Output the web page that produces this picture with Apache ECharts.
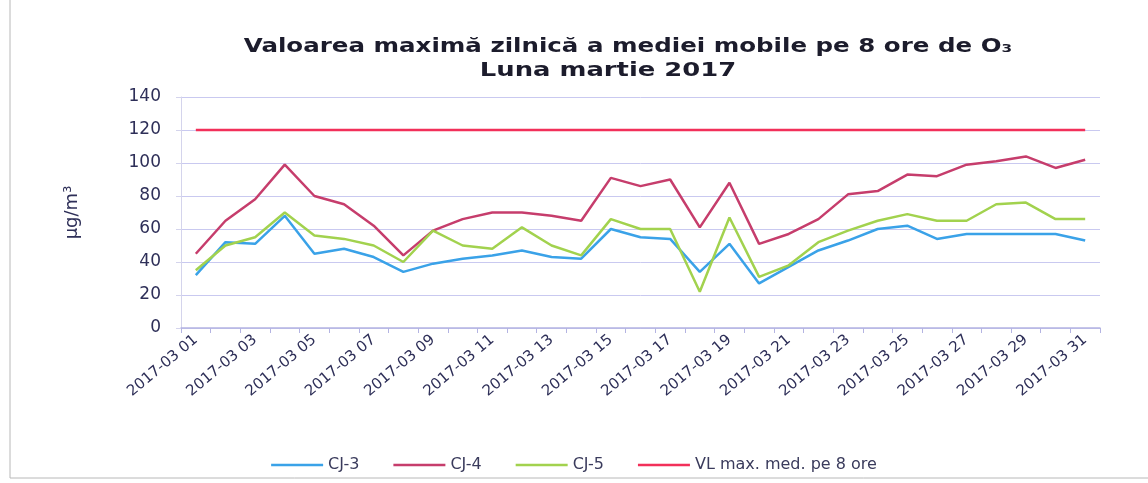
<!DOCTYPE html>
<html>
<head>
<meta charset="utf-8">
<script src="https://cdn.jsdelivr.net/npm/echarts@6/dist/echarts.min.js"></script>
<style>html,body{margin:0;padding:0;background:#fff}#c{width:1148px;height:483px}</style>
</head>
<body>
<div id="c"></div>
<script>
const categories = ["2017-03 01","2017-03 02","2017-03 03","2017-03 04","2017-03 05","2017-03 06","2017-03 07","2017-03 08","2017-03 09","2017-03 10","2017-03 11","2017-03 12","2017-03 13","2017-03 14","2017-03 15","2017-03 16","2017-03 17","2017-03 18","2017-03 19","2017-03 20","2017-03 21","2017-03 22","2017-03 23","2017-03 24","2017-03 25","2017-03 26","2017-03 27","2017-03 28","2017-03 29","2017-03 30","2017-03 31"];
const cj3 = [32,52,51,68,45,48,43,34,39,42,44,47,43,42,60,55,54,34,51,27,37,47,53,60,62,54,57,57,57,57,53];
const cj4 = [45,65,78,99,80,75,62,44,59,66,70,70,68,65,91,86,90,61,88,51,57,66,81,83,93,92,99,101,104,97,102];
const cj5 = [35,50,55,70,56,54,50,40,59,50,48,61,50,44,66,60,60,22,67,31,38,52,59,65,69,65,65,75,76,66,66];
const vl  = [120,120,120,120,120,120,120,120,120,120,120,120,120,120,120,120,120,120,120,120,120,120,120,120,120,120,120,120,120,120,120];
const yTicks = [0,20,40,60,80,100,120,140];

const chart = echarts.init(document.getElementById('c'), null, {renderer:'canvas'});
const navy = '#2e2f58';
function line(name, data, color) {
  return {name, type:'line', data, symbol:'none', smooth:false,
    lineStyle:{color, width:2.5}, itemStyle:{color}, z: name.startsWith('VL') ? 3 : 2};
}
chart.setOption({
  backgroundColor:'#fff',
  animation:false,
  graphic:[
    {type:'text', x:628, y:47, scaleX:1.29, style:{text:'Valoarea maximă zilnică a mediei mobile pe 8 ore de O₃', font:'bold 19px "DejaVu Sans"', fill:'#1c1c2c', textAlign:'center', textVerticalAlign:'middle'}},
    {type:'text', x:608, y:71, scaleX:1.36, style:{text:'Luna martie 2017', font:'bold 19px "DejaVu Sans"', fill:'#1c1c2c', textAlign:'center', textVerticalAlign:'middle'}},
    {type:'line', shape:{x1:10,y1:0,x2:10,y2:478}, style:{stroke:'#b8b8b8', lineWidth:1}},
    {type:'line', shape:{x1:10,y1:478,x2:1148,y2:478}, style:{stroke:'#b8b8b8', lineWidth:1}}
  ],
  legend:{
    top:452, left:'center', icon:'rect', itemWidth:52, itemHeight:2.5, itemGap:34,
    textStyle:{fontFamily:'DejaVu Sans', fontSize:16, color:'#3a3b5c'},
    data:['CJ-3','CJ-4','CJ-5','VL max. med. pe 8 ore']
  },
  grid:{left:181, right:48, top:97, bottom:155},
  xAxis:{
    type:'category', data:categories, boundaryGap:true,
    axisLine:{lineStyle:{color:'#b4b4e2', width:1.5}},
    axisTick:{show:true, interval:0, length:5, lineStyle:{color:'#b4b4e2'}},
    axisLabel:{interval:1, rotate:40, fontFamily:'DejaVu Sans', fontSize:15, color:navy, margin:10},
    splitLine:{show:false}
  },
  yAxis:{
    type:'value', min:yTicks[0], max:yTicks[yTicks.length-1], interval:20,
    name:'µg/m³', nameLocation:'middle', nameGap:100, nameRotate:90,
    nameTextStyle:{fontFamily:'DejaVu Sans', fontSize:18, color:navy},
    axisLine:{show:true, lineStyle:{color:'#d4d4ec'}},
    axisTick:{show:true, length:5, lineStyle:{color:'#d4d4ec'}},
    axisLabel:{fontFamily:'DejaVu Sans', fontSize:17, color:navy, margin:20},
    splitLine:{lineStyle:{color:'#c9c9f0', width:1}}
  },
  series:[
    line('CJ-3', cj3, '#3aa2e8'),
    line('CJ-4', cj4, '#c63d6c'),
    line('CJ-5', cj5, '#a2d24e'),
    line('VL max. med. pe 8 ore', vl, '#f2305a')
  ]
});
</script>
</body>
</html>
